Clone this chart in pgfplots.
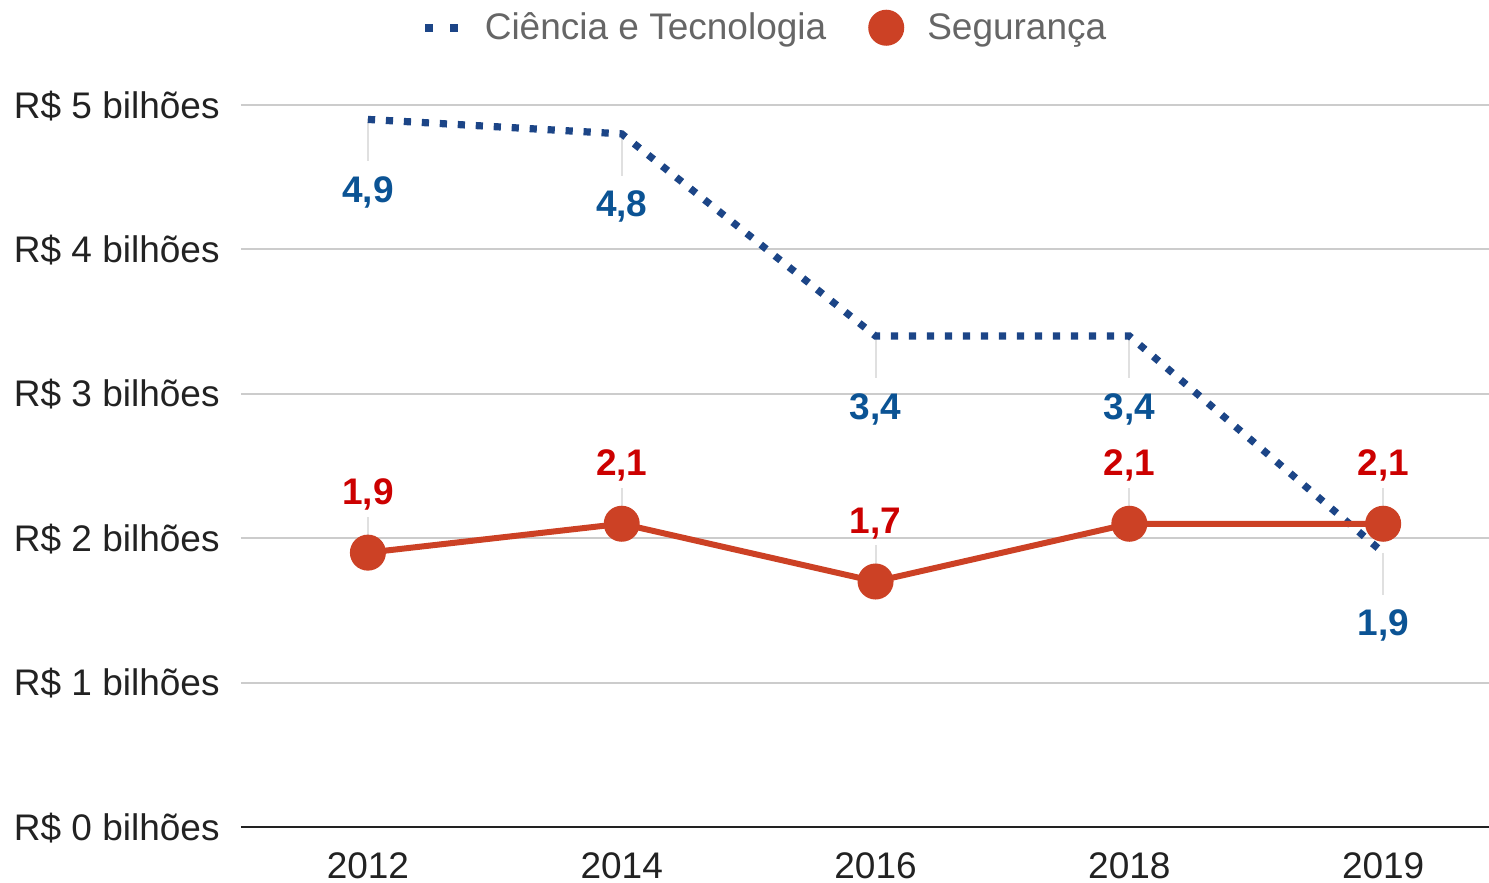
\documentclass[border=0pt]{standalone}
\usepackage{pgfplots}
\pgfplotsset{compat=1.18}
\usepackage{fontspec}
\setmainfont{Liberation Sans}
\definecolor{cblue}{HTML}{1C4587}
\definecolor{cred}{HTML}{CC4125}
\definecolor{lblue}{HTML}{0B5394}
\definecolor{lred}{HTML}{CC0000}
\definecolor{gridc}{HTML}{CCCCCC}
\definecolor{leader}{HTML}{E0E0E0}
\definecolor{leggray}{HTML}{666666}
\definecolor{tickc}{HTML}{222222}
\newcommand{\tf}{\fontsize{18.5pt}{22pt}\selectfont}
\begin{document}
\begin{tikzpicture}
\begin{axis}[name=ax, scale only axis, width=624pt, height=361pt,
  xmin=-0.5, xmax=4.417, ymin=0, ymax=5, clip=false,
  axis lines*=left,
  y axis line style={draw=none},
  x axis line style={-, draw=tickc, line width=1pt},
  ymajorgrids, grid style={gridc, line width=1pt},
  major tick length=0pt, tick style={draw=none},
  xtick={0,1,2,3,4}, xticklabels={2012,2014,2016,2018,2019},
  ytick={0,1,2,3,4,5},
  yticklabels={R\$ 0 bilhões,R\$ 1 bilhões,R\$ 2 bilhões,R\$ 3 bilhões,R\$ 4 bilhões,R\$ 5 bilhões},
  yticklabel style={anchor=base east, inner sep=0pt, xshift=-10.5pt, yshift=-6.6pt, font=\tf, text=tickc},
  xticklabel style={anchor=north, inner sep=0pt, yshift=-12.5pt, font=\tf, text=tickc},
  legend columns=2,
  legend style={at={(0.419,1.107)}, anchor=center, draw=none, fill=none, inner sep=0pt,
    nodes={inner sep=0pt}, font=\tf, text=leggray,
    /tikz/every odd column/.append style={column sep=11.5pt},
    /tikz/every even column/.append style={column sep=21pt}},
]
% leader lines
\addplot[draw=none, forget plot, error bars/.cd, y dir=minus, y fixed=0.29, error mark=none,
  error bar style={draw=leader, line width=1pt, solid}]
  coordinates {(0,4.9) (1,4.8) (2,3.4) (3,3.4) (4,1.9)};
\addplot[draw=none, forget plot, error bars/.cd, y dir=plus, y fixed=0.25, error mark=none,
  error bar style={draw=leader, line width=1pt, solid}]
  coordinates {(0,1.9) (1,2.1) (2,1.7) (3,2.1) (4,2.1)};
% Ciencia e Tecnologia
\addplot[cblue, line width=3.6pt, dash pattern=on 3.6pt off 5.4pt, line cap=butt, mark=none,
  nodes near coords, point meta=explicit symbolic,
  nodes near coords style={anchor=base, inner sep=0pt, yshift=-41.5pt, font=\tf\bfseries, text=lblue},
  legend image code/.code={\draw[cblue, line width=3.8pt, dash pattern=on 3.8pt off 8.7pt] (0pt,0pt) -- (16.3pt,0pt);}]
  coordinates {(0,4.9)[4,9] (1,4.8)[4,8] (2,3.4)[3,4] (3,3.4)[3,4] (4,1.9)[1,9]};
\addlegendentry{Ciência e Tecnologia}
% Seguranca
\addplot[cred, line width=3pt, mark=*, mark size=7.5pt, mark options={solid, fill=cred, draw=none},
  nodes near coords, point meta=explicit symbolic,
  nodes near coords style={anchor=base, inner sep=0pt, yshift=24pt, font=\tf\bfseries, text=lred},
  legend image code/.code={\fill[cred] (7.5pt,0pt) circle (7.5pt);}]
  coordinates {(0,1.9)[1,9] (1,2.1)[2,1] (2,1.7)[1,7] (3,2.1)[2,1] (4,2.1)[2,1]};
\addlegendentry{Segurança}
\end{axis}
\pgfresetboundingbox
\path ([shift={(-120.5pt,-28pt)}]ax.south west) rectangle ([shift={(0pt,52.5pt)}]ax.north east);
\end{tikzpicture}
\end{document}
